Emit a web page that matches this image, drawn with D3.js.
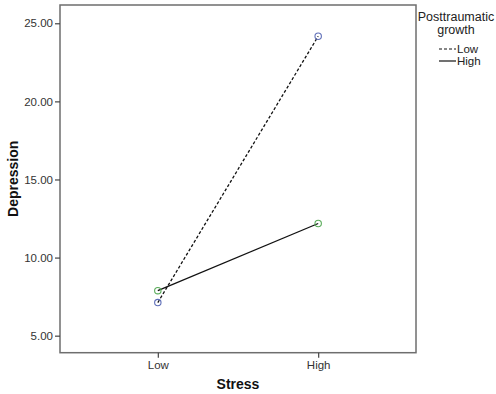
<!DOCTYPE html>
<html><head><meta charset="utf-8">
<script src="https://cdn.jsdelivr.net/npm/d3@7"></script>
<style>body{margin:0;background:#fff}svg{display:block}text{font-family:"Liberation Sans",Arial,sans-serif}</style>
</head><body><div id="c"></div>
<script>
const categories = ["Low", "High"];
const seriesNames = ["Low", "High"];
const lowPTG = [7.12, 24.17];
const highPTG = [7.88, 12.18];
const yTicks = [5, 10, 15, 20, 25];

const W = 496, H = 394;
const m = {l: 60, t: 5, r: 416, b: 352.7};
const svg = d3.select("#c").append("svg").attr("width", W).attr("height", H);

const x = d3.scalePoint().domain(categories).range([m.l, m.r]).padding(0.61);
const y = d3.scaleLinear().domain([3.91, 26.17]).range([m.b, m.t]);

// frame
svg.append("rect").attr("x", m.l).attr("y", m.t).attr("width", m.r - m.l).attr("height", m.b - m.t)
  .attr("fill", "none").attr("stroke", "#6e6e6e").attr("stroke-width", 1.5);

// y axis
const ya = svg.append("g").attr("transform", `translate(${m.l},0)`)
  .call(d3.axisLeft(y).tickValues(yTicks).tickFormat(d3.format(".2f")).tickSize(5).tickPadding(2));
ya.select(".domain").remove();
ya.selectAll("line").attr("stroke", "#444").attr("stroke-width", 1.2);
ya.selectAll("text").attr("font-size", 11.5).attr("fill", "#333").attr("font-family", "Liberation Sans, Arial, sans-serif");

// x axis
const xa = svg.append("g").attr("transform", `translate(0,${m.b})`)
  .call(d3.axisBottom(x).tickSize(5).tickPadding(3));
xa.select(".domain").remove();
xa.selectAll("line").attr("stroke", "#444").attr("stroke-width", 1.2);
xa.selectAll("text").attr("font-size", 11.5).attr("fill", "#333").attr("font-family", "Liberation Sans, Arial, sans-serif");

// axis titles
svg.append("text").attr("x", (m.l + m.r) / 2).attr("y", 389).attr("text-anchor", "middle")
  .attr("font-size", 14).attr("font-weight", "bold").attr("fill", "#111").text("Stress");
svg.append("text").attr("transform", `translate(18,${(m.t + m.b) / 2}) rotate(-90)`).attr("text-anchor", "middle")
  .attr("font-size", 14).attr("font-weight", "bold").attr("fill", "#111").text("Depression");

const series = [
  {name: seriesNames[0], vals: lowPTG, dash: "3,2", color: "#5f6fb8"},
  {name: seriesNames[1], vals: highPTG, dash: null, color: "#5aac5a"}
];
const line = d3.line().x((d, i) => x(categories[i])).y(d => y(d));
series.forEach(s => {
  svg.append("path").datum(s.vals).attr("d", line).attr("fill", "none")
    .attr("stroke", "#111").attr("stroke-width", 1.3).attr("stroke-dasharray", s.dash);
});
series.forEach(s => {
  svg.selectAll(null).data(s.vals).enter().append("circle")
    .attr("cx", (d, i) => x(categories[i])).attr("cy", d => y(d)).attr("r", 3.2)
    .attr("fill", "none").attr("stroke", s.color).attr("stroke-width", 1.1);
});

// legend
const lg = svg.append("g");
lg.append("text").attr("x", 456).attr("y", 21).attr("text-anchor", "middle").attr("font-size", 12.5).attr("fill", "#222").text("Posttraumatic");
lg.append("text").attr("x", 456).attr("y", 34).attr("text-anchor", "middle").attr("font-size", 12.5).attr("fill", "#222").text("growth");
series.forEach((s, i) => {
  const yy = 49 + i * 12;
  lg.append("line").attr("x1", 439).attr("x2", 456).attr("y1", yy).attr("y2", yy)
    .attr("stroke", "#111").attr("stroke-width", 1.2).attr("stroke-dasharray", s.dash);
  lg.append("text").attr("x", 457).attr("y", yy + 4).attr("font-size", 11.5).attr("fill", "#222").text(s.name);
});
</script></body></html>
